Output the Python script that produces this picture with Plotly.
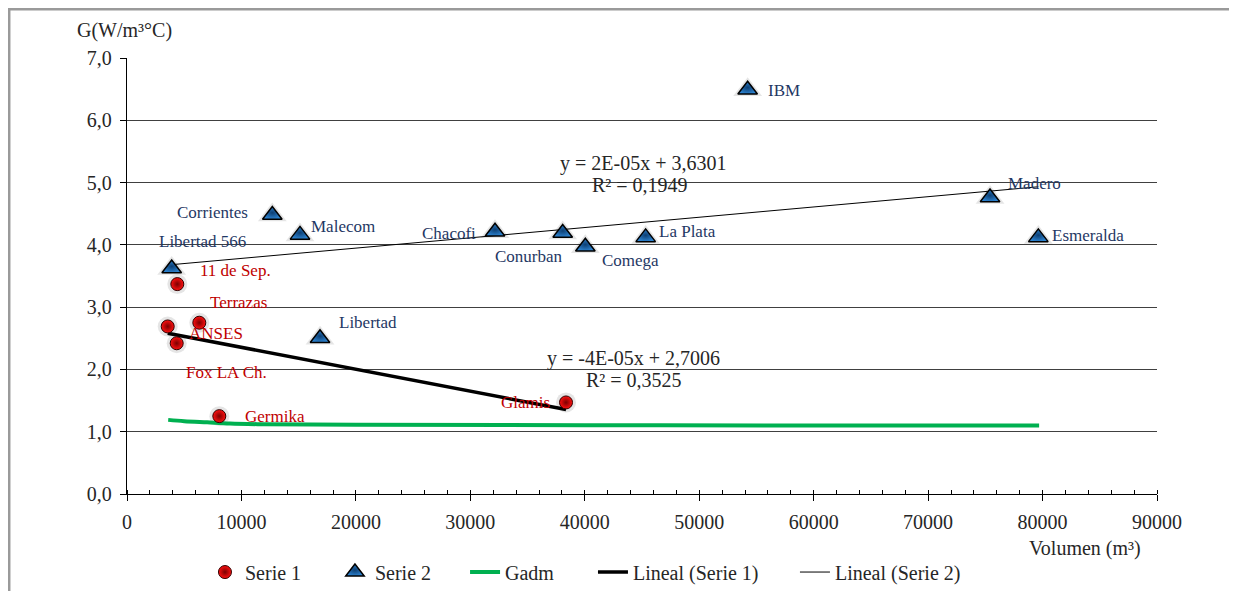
import numpy as np
import plotly.graph_objects as go

# ---------------- data ----------------
s1_names = ["11 de Sep.", "Terrazas", "ANSES", "Fox LA Ch.", "Germika", "Glamis"]
s1_vol = [4395, 6318, 3556, 4343, 8066, 38360]
s1_g = [3.37, 2.75, 2.69, 2.42, 1.25, 1.47]

s2_names = ["Libertad 566", "Corrientes", "Malecom", "Libertad", "Chacofi", "Conurban",
            "Comega", "La Plata", "IBM", "Madero", "Esmeralda"]
s2_vol = [3906, 12697, 15117, 16865, 32156, 38070, 40050, 45320, 54230, 75410, 79630]
s2_g = [3.62, 4.48, 4.16, 2.50, 4.21, 4.19, 3.97, 4.12, 6.49, 4.76, 4.12]

gadm_vol = [3600, 5000, 7000, 9000, 12000, 20000, 40000, 60000, 79700]
gadm_g = [1.19, 1.17, 1.15, 1.13, 1.12, 1.11, 1.105, 1.10, 1.10]

eq1_text = ["y = -4E-05x + 2,7006", "R² = 0,3525"]
eq2_text = ["y = 2E-05x + 3,6301", "R² = 0,1949"]

x_ticks = [0, 10000, 20000, 30000, 40000, 50000, 60000, 70000, 80000, 90000]
y_ticks = [0, 1, 2, 3, 4, 5, 6, 7]

# ---------------- label offsets (pixels) ----------------
s1_off = [(58, 14), (39, 20), (48, -7), (50, -29), (56, 0), (-41, 0)]
s2_off = [(31, 27), (-60, 2), (43, 8), (48, 16), (-46, -2), (-34, -23),
          (45, -14), (42, 6), (36, -1), (44, 14), (50, 2)]

FONT = "Liberation Serif"
RED_TXT = "#C00000"
BLUE_TXT = "#1F3864"
TXT = "#262626"

# trendlines (least squares, drawn over data range)
def trend(xs, ys):
    m, b = np.polyfit(xs, ys, 1)
    xr = np.array([min(xs), max(xs)])
    return xr, m * xr + b

t1x, t1y = trend(s1_vol, s1_g)
t2x, t2y = trend(s2_vol, s2_g)

fig = go.Figure()

# soft shadows
fig.add_trace(go.Scatter(x=s1_vol, y=s1_g, mode="markers", showlegend=False, hoverinfo="skip",
                         marker=dict(size=20, color="rgba(0,0,0,0.10)", line=dict(width=0))))
fig.add_trace(go.Scatter(x=s2_vol, y=s2_g, mode="markers", showlegend=False, hoverinfo="skip",
                         marker=dict(size=25, symbol="triangle-up", color="rgba(0,0,0,0.10)",
                                     line=dict(width=0))))

fig.add_trace(go.Scatter(x=gadm_vol, y=gadm_g, mode="lines", name="Gadm", legend="legend3",
                         line=dict(color="#00B050", width=4, shape="spline")))
fig.add_trace(go.Scatter(x=t1x, y=t1y, mode="lines", name="Lineal (Serie 1)", legend="legend4",
                         line=dict(color="black", width=3.5)))
fig.add_trace(go.Scatter(x=t2x, y=t2y, mode="lines", name="Lineal (Serie 2)", legend="legend5",
                         line=dict(color="black", width=1)))
fig.add_trace(go.Scatter(x=s1_vol, y=s1_g, mode="markers", name="Serie 1", legend="legend",
                         marker=dict(size=13, color="#FF1010",
                                     gradient=dict(type="radial", color="#7A0000"),
                                     line=dict(color="#300000", width=1))))
fig.add_trace(go.Scatter(x=s2_vol, y=s2_g, mode="markers", name="Serie 2", legend="legend2",
                         marker=dict(size=17, symbol="triangle-up", color="#2C82CF",
                                     gradient=dict(type="radial", color="#0D3F73"),
                                     line=dict(color="black", width=1.5))))

annotations = []
for name, x, y, (dx, dy) in zip(s1_names, s1_vol, s1_g, s1_off):
    annotations.append(dict(x=x, y=y, xref="x", yref="y", text=name, showarrow=False,
                            xshift=dx, yshift=dy, font=dict(family=FONT, size=17, color=RED_TXT)))
for name, x, y, (dx, dy) in zip(s2_names, s2_vol, s2_g, s2_off):
    annotations.append(dict(x=x, y=y, xref="x", yref="y", text=name, showarrow=False,
                            xshift=dx, yshift=dy, font=dict(family=FONT, size=17, color=BLUE_TXT)))

eq_font = dict(family=FONT, size=20, color=TXT)
annotations += [
    dict(x=45090, y=5.31, text=eq2_text[0], showarrow=False, font=eq_font),
    dict(x=44830, y=4.96, text=eq2_text[1], showarrow=False, font=eq_font),
    dict(x=44215, y=2.18, text=eq1_text[0], showarrow=False, font=eq_font),
    dict(x=44300, y=1.83, text=eq1_text[1], showarrow=False, font=eq_font),
    dict(x=-0.002, y=1.064, xref="paper", yref="paper", xanchor="center", yanchor="middle",
         text="G(W/m³°C)", showarrow=False, font=dict(family=FONT, size=20, color=TXT)),
    dict(x=0.930, y=-0.124, xref="paper", yref="paper", xanchor="center", yanchor="middle",
         text="Volumen (m³)", showarrow=False, font=dict(family=FONT, size=20, color=TXT)),
]

leg_common = dict(orientation="h", y=-0.179, yanchor="middle", xanchor="left",
                  font=dict(family=FONT, size=20, color=TXT), bgcolor="rgba(0,0,0,0)")
leg_x = [0.0757, 0.2019, 0.3282, 0.4524, 0.6485]

fig.update_layout(
    width=1237, height=600,
    margin=dict(l=119, r=88, t=50, b=114),
    paper_bgcolor="white", plot_bgcolor="white",
    separators=",.",
    font=dict(family=FONT, size=20, color=TXT),
    annotations=annotations,
    shapes=[dict(type="rect", xref="paper", yref="paper", x0=-0.1146, x1=1.0728, y0=-0.3, y1=1.1124,
                 line=dict(color="#9A9A9A", width=3), layer="below")],
    legend=dict(x=leg_x[0], **leg_common),
    legend2=dict(x=leg_x[1], **leg_common),
    legend3=dict(x=leg_x[2], **leg_common),
    legend4=dict(x=leg_x[3], **leg_common),
    legend5=dict(x=leg_x[4], **leg_common),
    showlegend=True,
    # overlay axis to draw the inner half of the major x ticks (crossing ticks)
    xaxis2=dict(overlaying="x", anchor="y", side="bottom", range=[0, 90000], tickvals=x_ticks,
                ticks="inside", ticklen=7, tickwidth=1.3, tickcolor="black",
                showticklabels=False, showgrid=False, zeroline=False, showline=False,
                fixedrange=True),
)

fig.update_xaxes(selector=dict(anchor="y", overlaying=None), range=[0, 90000])
fig.layout.xaxis.update(range=[0, 90000], tickvals=x_ticks, tickformat="d",
                        showgrid=False, zeroline=False, showline=True, linecolor="black", linewidth=1.3,
                        ticks="outside", ticklen=6, tickcolor="black", tickwidth=1.3,
                        ticklabelstandoff=4,
                        tickfont=dict(family=FONT, size=20, color=TXT),
                        minor=dict(dtick=2000, ticks="inside", ticklen=4, tickcolor="black", tickwidth=1),
                        fixedrange=True)
fig.update_yaxes(range=[0, 7], tickvals=y_ticks, tickformat=".1f",
                 showgrid=True, gridcolor="#404040", gridwidth=1.3, zeroline=False,
                 showline=True, linecolor="black", linewidth=1.3,
                 ticks="outside", ticklen=6, tickcolor="black", tickwidth=1.3,
                 ticklabelstandoff=4,
                 tickfont=dict(family=FONT, size=20, color=TXT), fixedrange=True)

fig.write_html("out.html")
